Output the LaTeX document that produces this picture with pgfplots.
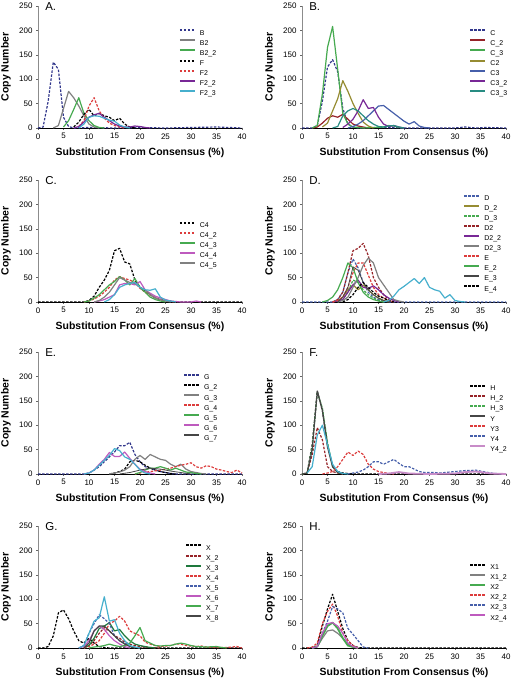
\documentclass[border=0pt]{standalone}
\usepackage{fontspec}
\setmainfont{Liberation Sans}
\usepackage{pgfplots}
\pgfplotsset{compat=1.18}
\definecolor{cnavy}{RGB}{50,55,140}
\definecolor{cgray}{RGB}{128,128,128}
\definecolor{cgreen}{RGB}{70,170,80}
\definecolor{cred}{RGB}{220,60,60}
\definecolor{cdred}{RGB}{150,35,40}
\definecolor{cpurple}{RGB}{120,40,150}
\definecolor{cmag}{RGB}{190,90,190}
\definecolor{ccyan}{RGB}{70,175,205}
\definecolor{colive}{RGB}{150,140,50}
\definecolor{cblue}{RGB}{70,95,170}
\definecolor{cteal}{RGB}{40,140,130}
\definecolor{cdgreen}{RGB}{30,120,60}
\definecolor{cdgray}{RGB}{70,70,70}
\definecolor{cpink}{RGB}{200,140,200}
\tikzset{dsh/.style={dash pattern=on 2.5bp off 1.5bp},
 plab/.style={font=\fontsize{11.5}{12}\selectfont, inner sep=0pt, anchor=north west}}
\pgfplotsset{
 panel/.style={
  scale only axis, width=204bp, height=122bp,
  xmin=0, xmax=40, ymin=0, ymax=250, clip=false,
  xtick={0,5,...,40}, ytick={0,50,...,250},
  axis x line*=bottom, axis y line*=left,
  x axis line style={black, line width=0.6bp},
  y axis line style={black!45, line width=0.9bp},
  tick align=outside, major tick length=2bp,
  tick style={black!60, line width=0.5bp},
  /pgf/number format/assume math mode=true,
  ticklabel style={font=\fontsize{8}{9}\selectfont},
  xlabel={Substitution From Consensus (\%)}, ylabel={Copy Number},
  label style={font=\bfseries\fontsize{10.5}{12}\selectfont},
  xlabel style={at={(axis description cs:0.5,-0.205)}, anchor=center},
  ylabel style={at={(axis description cs:-0.157,0.5)}, anchor=center},
  every axis plot/.append style={line width=1.2bp, line join=round},
  legend style={draw=none, fill=none, inner sep=0pt, anchor=north west,
    font=\fontsize{7}{8}\selectfont, row sep=3.8bp, column sep=4bp,
    nodes={inner sep=0pt, text height=5bp, text depth=0.5bp}},
  legend cell align=left,
  legend image code/.code={\draw[##1,line width=2bp] (0bp,2.5bp) -- (15bp,2.5bp);},
 },
}
\begin{document}
\begin{tikzpicture}[x=1bp,y=1bp]
\path[use as bounding box] (0,0) rectangle (512,679);
% ---------------- A
\begin{axis}[panel, at={(38bp,551bp)}, anchor=south west, legend style={at={(0.69,0.81)}}]
\node[plab] at (rel axis cs:0.035,1.03) {A.};
\addplot[cnavy,dsh] coordinates {(0,0)(1,2)(2,55)(3,135)(4,120)(5,22)(6,3)(7,0)(10,1)(15,0)(20,1)(25,0)(30,1)(35,2)(40,0)};
\addplot[cgray] coordinates {(3,0)(4,5)(5,40)(6,75)(7,62)(8,45)(9,25)(10,8)(11,2)(12,0)};
\addplot[cgreen] coordinates {(5,2)(6,15)(7,38)(8,62)(9,30)(10,15)(11,5)(12,1)(13,0)};
\addplot[black,dsh] coordinates {(7,2)(8,12)(9,28)(10,38)(11,25)(12,30)(13,25)(14,22)(15,15)(16,20)(17,8)(18,2)(19,0)};
\addplot[cred,dsh] coordinates {(8,3)(9,15)(10,45)(11,62)(12,35)(13,20)(14,10)(15,5)(16,2)(17,0)};
\addplot[cpurple] coordinates {(7,0)(8,3)(9,12)(10,22)(11,27)(12,30)(13,22)(14,15)(15,8)(16,4)(17,2)(18,2)(19,4)(20,3)(21,1)(22,0)};
\addplot[ccyan] coordinates {(8,0)(9,8)(10,22)(11,25)(12,24)(13,20)(14,16)(15,14)(16,6)(17,2)(18,0)};
\legend{B,B2,B2\_2,F,F2,F2\_2,F2\_3}
\end{axis}
% ---------------- B
\begin{axis}[panel, at={(302bp,551bp)}, anchor=south west, legend style={at={(0.82,0.81)}}]
\node[plab] at (rel axis cs:0.035,1.03) {B.};
\addplot[cnavy,dsh] coordinates {(0,0)(2,0)(3,5)(4,55)(5,125)(6,140)(7,115)(8,40)(9,8)(10,2)(11,0)(15,1)(20,0)(30,0)(32,2)(34,0)(36,1)(40,0)};
\addplot[cdred] coordinates {(2,0)(3,2)(4,10)(5,20)(6,25)(7,22)(8,28)(9,18)(10,8)(11,4)(12,2)(13,0)};
\addplot[cgreen] coordinates {(2,0)(3,5)(4,70)(5,165)(6,208)(7,120)(8,30)(9,8)(10,2)(12,0)(16,2)(17,5)(18,4)(19,1)(20,0)};
\addplot[colive] coordinates {(4,2)(5,10)(6,35)(7,60)(8,97)(9,75)(10,50)(11,30)(12,12)(13,4)(14,0)};
\addplot[cblue] coordinates {(9,0)(10,3)(11,8)(12,15)(13,25)(14,35)(15,45)(16,46)(17,38)(18,30)(19,22)(20,14)(21,8)(22,13)(23,4)(24,1)(25,0)};
\addplot[cpurple] coordinates {(8,1)(9,8)(10,18)(11,35)(12,58)(13,40)(14,42)(15,22)(16,8)(17,3)(18,5)(19,2)(20,0)};
\addplot[cteal] coordinates {(6,0)(7,3)(8,25)(9,35)(10,40)(11,35)(12,25)(13,15)(14,8)(15,3)(16,2)(17,4)(18,5)(19,2)(20,0)};
\legend{C,C\_2,C\_3,C2,C3,C3\_2,C3\_3}
\end{axis}
% ---------------- C
\begin{axis}[panel, at={(38bp,377bp)}, anchor=south west, legend style={at={(0.69,0.66)}}]
\node[plab] at (rel axis cs:0.035,1.03) {C.};
\addplot[black,dsh] coordinates {(0,0)(9,0)(10,3)(11,12)(12,30)(13,45)(14,65)(15,105)(16,110)(17,82)(18,78)(19,45)(20,30)(21,22)(22,15)(23,8)(24,5)(25,3)(26,2)(27,0)(40,0)};
\addplot[cred,dsh] coordinates {(9,0)(10,2)(11,6)(12,12)(13,20)(14,30)(15,45)(16,52)(17,48)(18,45)(19,40)(20,28)(21,20)(22,14)(23,9)(24,5)(25,3)(26,1)(27,0)};
\addplot[cgreen] coordinates {(9,0)(10,2)(11,8)(12,15)(13,25)(14,35)(15,42)(16,52)(17,45)(18,35)(19,48)(20,30)(21,20)(22,10)(23,5)(24,2)(25,0)};
\addplot[cmag] coordinates {(11,0)(12,2)(13,5)(14,10)(15,15)(16,35)(17,38)(18,38)(19,35)(20,42)(21,25)(22,18)(23,12)(24,8)(25,5)(26,2)(27,1)(28,0)(30,0)(31,2)(32,0)};
\addplot[cgray] coordinates {(11,0)(12,3)(13,10)(14,20)(15,35)(16,50)(17,45)(18,40)(19,38)(20,30)(21,25)(22,15)(23,8)(24,5)(25,2)(26,0)};
\addplot[ccyan,forget plot] coordinates {(13,0)(14,5)(15,15)(16,30)(17,35)(18,38)(19,40)(20,30)(21,25)(22,24)(23,27)(24,10)(25,4)(26,2)(27,0)};
\legend{C4,C4\_2,C4\_3,C4\_4,C4\_5}
\end{axis}
% ---------------- D
\begin{axis}[panel, at={(302bp,377bp)}, anchor=south west, legend style={at={(0.79,0.88)}}]
\node[plab] at (rel axis cs:0.035,1.03) {D.};
\addplot[cblue,dsh] coordinates {(0,0)(6,0)(7,5)(8,20)(9,60)(10,88)(11,70)(12,40)(13,20)(14,10)(15,5)(16,2)(17,0)(40,0)};
\addplot[colive] coordinates {(6,0)(7,3)(8,10)(9,25)(10,35)(11,25)(12,35)(13,25)(14,15)(15,8)(16,3)(17,0)};
\addplot[cgreen,dsh] coordinates {(7,0)(8,5)(9,20)(10,45)(11,40)(12,25)(13,15)(14,8)(15,3)(16,0)};
\addplot[cdred,dsh] coordinates {(6,0)(7,5)(8,20)(9,60)(10,105)(11,110)(12,120)(13,95)(14,50)(15,30)(16,15)(17,5)(18,0)};
\addplot[cpurple] coordinates {(6,0)(7,2)(8,5)(9,20)(10,35)(11,45)(12,30)(13,28)(14,33)(15,25)(16,15)(17,8)(18,3)(19,0)};
\addplot[cgray] coordinates {(7,0)(8,3)(9,10)(10,30)(11,50)(12,75)(13,90)(14,80)(15,50)(16,35)(17,20)(18,5)(19,2)(20,0)};
\addplot[cred,dsh] coordinates {(6,0)(7,3)(8,10)(9,30)(10,60)(11,80)(12,80)(13,55)(14,30)(15,15)(16,8)(17,3)(18,0)};
\addplot[cgreen] coordinates {(4,0)(5,3)(6,10)(7,25)(8,50)(9,80)(10,70)(11,40)(12,20)(13,10)(14,5)(15,2)(16,0)};
\addplot[cdgray,line width=0.8bp] coordinates {(7,0)(8,10)(9,30)(10,72)(11,65)(12,40)(13,25)(14,15)(15,8)(16,3)(17,0)};
\addplot[black,dsh] coordinates {(8,0)(9,5)(10,15)(11,30)(12,40)(13,30)(14,20)(15,12)(16,8)(17,3)(18,0)};
\addplot[ccyan,forget plot] coordinates {(16,0)(17,3)(18,12)(19,25)(20,32)(21,40)(22,48)(23,38)(24,50)(25,30)(26,25)(27,22)(28,8)(29,15)(30,3)(31,1)(32,0)};
\legend{D,D\_2,D\_3,D2,D2\_2,D2\_3,E,E\_2,E\_3,E\_4}
\end{axis}
% ---------------- E
\begin{axis}[panel, at={(38bp,205bp)}, anchor=south west, legend style={at={(0.71,0.82)}}]
\node[plab] at (rel axis cs:0.035,1.03) {E.};
\addplot[cnavy,dsh] coordinates {(0,0)(9,0)(10,2)(11,8)(12,15)(13,25)(14,35)(15,45)(16,58)(17,58)(18,65)(19,40)(20,25)(21,15)(22,12)(23,8)(24,5)(25,3)(26,1)(27,0)(40,0)};
\addplot[black,dsh] coordinates {(14,0)(15,2)(16,5)(17,10)(18,25)(19,28)(20,25)(21,18)(22,12)(23,8)(24,5)(25,3)(26,1)(27,0)};
\addplot[cgray] coordinates {(14,0)(15,2)(16,4)(17,8)(18,15)(19,30)(20,38)(21,30)(22,40)(23,35)(24,30)(25,28)(26,20)(27,15)(28,20)(29,10)(30,5)(31,3)(32,1)(33,0)};
\addplot[cred,dsh] coordinates {(19,0)(20,2)(22,5)(24,8)(26,12)(27,15)(28,18)(29,20)(30,23)(31,15)(32,12)(33,17)(34,15)(35,10)(36,8)(37,5)(38,3)(39,8)(40,2)};
\addplot[cgreen] coordinates {(19,0)(20,3)(21,8)(22,12)(23,12)(24,15)(25,12)(26,8)(27,12)(28,8)(29,4)(30,3)(31,1)(32,0)};
\addplot[cmag] coordinates {(9,0)(10,2)(11,8)(12,20)(13,30)(14,44)(15,36)(16,36)(17,45)(18,32)(19,20)(20,10)(21,5)(22,2)(23,0)};
\addplot[cdgray,line width=0.8bp] coordinates {(16,0)(18,3)(20,8)(22,12)(24,10)(26,6)(28,3)(30,0)};
\addplot[ccyan,forget plot] coordinates {(9,0)(10,2)(11,8)(12,18)(13,28)(14,38)(15,52)(16,48)(17,35)(18,30)(19,20)(20,8)(21,2)(22,0)};
\legend{G,G\_2,G\_3,G\_4,G\_5,G\_6,G\_7}
\end{axis}
% ---------------- F
\begin{axis}[panel, at={(302bp,205bp)}, anchor=south west, legend style={at={(0.82,0.73)}}]
\node[plab] at (rel axis cs:0.035,1.03) {F.};
\addplot[black,dsh] coordinates {(0,0)(1,2)(2,60)(3,170)(4,130)(5,60)(6,15)(7,5)(8,2)(9,1)(10,0)(40,0)};
\addplot[cdred,dsh] coordinates {(0,0)(1,2)(2,40)(3,95)(4,70)(5,15)(6,5)(7,2)(8,0)};
\addplot[cgreen,dsh] coordinates {(0,0)(1,2)(2,55)(3,168)(4,135)(5,65)(6,15)(7,3)(8,0)};
\addplot[cdgray] coordinates {(0,0)(1,2)(2,50)(3,170)(4,130)(5,55)(6,15)(7,3)(8,0)};
\addplot[cred,dsh] coordinates {(4,0)(5,2)(6,5)(7,15)(8,30)(9,45)(10,38)(11,47)(12,40)(13,20)(14,10)(15,5)(16,3)(17,1)(18,0)};
\addplot[cblue,dsh] coordinates {(9,0)(10,2)(11,4)(12,8)(13,15)(14,25)(15,25)(16,20)(17,25)(18,30)(19,22)(20,15)(21,15)(22,10)(23,5)(24,3)(25,3)(26,3)(27,2)(28,3)(29,4)(30,5)(31,6)(32,7)(33,7)(34,8)(35,6)(36,4)(37,2)(38,1)(39,0)};
\addplot[cpink,line width=1.8bp] coordinates {(15,0)(17,1)(19,4)(21,1)(25,0)(30,1)(32,4)(34,5)(35,4)(37,1)(40,0)};
\addplot[ccyan,forget plot] coordinates {(1,2)(2,15)(3,80)(4,100)(5,60)(6,20)(7,5)(8,1)(9,0)};
\legend{H,H\_2,H\_3,Y,Y3,Y4,Y4\_2}
\end{axis}
% ---------------- G
\begin{axis}[panel, at={(38bp,31bp)}, anchor=south west, legend style={at={(0.72,0.85)}}]
\node[plab] at (rel axis cs:0.035,1.03) {G.};
\addplot[black,dsh] coordinates {(0,0)(1,0)(2,3)(3,25)(4,72)(5,78)(6,60)(7,35)(8,15)(9,10)(10,20)(11,10)(12,3)(13,1)(14,0)(40,0)};
\addplot[cdred,dsh] coordinates {(9,0)(10,5)(11,15)(12,30)(13,42)(14,35)(15,25)(16,20)(17,12)(18,8)(19,5)(20,3)(22,1)(24,0)};
\addplot[cdgreen] coordinates {(9,0)(10,5)(11,20)(12,40)(13,45)(14,52)(15,35)(16,38)(17,25)(18,15)(19,8)(20,5)(21,3)(22,1)(23,0)};
\addplot[cred,dsh] coordinates {(9,0)(10,3)(11,8)(12,15)(13,30)(14,50)(15,55)(16,65)(17,55)(18,35)(19,30)(20,25)(21,12)(22,8)(23,5)(24,3)(25,4)(26,5)(27,8)(28,8)(29,5)(30,4)(31,3)(32,4)(33,2)(35,1)(37,1)(38,2)(39,3)(40,0)};
\addplot[cblue,dsh] coordinates {(8,0)(9,5)(10,30)(11,50)(12,68)(13,60)(14,50)(15,25)(16,15)(17,10)(18,5)(19,2)(20,0)};
\addplot[cmag] coordinates {(8,0)(9,3)(10,15)(11,35)(12,45)(13,38)(14,25)(15,15)(16,8)(17,3)(18,0)};
\addplot[cgreen] coordinates {(10,0)(11,2)(12,3)(13,5)(14,8)(15,5)(16,3)(17,5)(18,10)(19,25)(20,42)(21,15)(22,10)(23,5)(24,4)(25,5)(26,5)(27,8)(28,10)(29,8)(30,5)(31,3)(33,2)(35,3)(36,1)(37,0)};
\addplot[cdgray] coordinates {(9,0)(10,10)(11,35)(12,45)(13,45)(14,35)(15,25)(16,15)(17,8)(18,3)(19,0)};
\addplot[ccyan,forget plot] coordinates {(8,0)(9,5)(10,30)(11,55)(12,62)(13,105)(14,55)(15,58)(16,30)(17,15)(18,5)(19,2)(20,0)};
\legend{X,X\_2,X\_3,X\_4,X\_5,X\_6,X\_7,X\_8}
\end{axis}
% ---------------- H
\begin{axis}[panel, at={(302bp,31bp)}, anchor=south west, legend style={at={(0.82,0.69)}}]
\node[plab] at (rel axis cs:0.035,1.03) {H.};
\addplot[black,dsh] coordinates {(0,0)(2,0)(3,5)(4,45)(5,80)(6,110)(7,75)(8,40)(9,15)(10,5)(11,1)(12,0)(40,0)};
\addplot[cgray] coordinates {(2,0)(3,3)(4,20)(5,35)(6,37)(7,30)(8,20)(9,8)(10,3)(11,0)};
\addplot[cgreen,line width=1.8bp] coordinates {(2,0)(3,3)(4,25)(5,45)(6,52)(7,40)(8,20)(9,5)(10,2)(11,0)};
\addplot[cred,dsh] coordinates {(1,0)(2,2)(3,10)(4,50)(5,75)(6,90)(7,65)(8,30)(9,15)(10,5)(11,0)};
\addplot[cblue,dsh] coordinates {(2,0)(3,3)(4,30)(5,55)(6,85)(7,80)(8,72)(9,40)(10,28)(11,15)(12,2)(13,0)};
\addplot[cmag] coordinates {(2,0)(3,3)(4,30)(5,50)(6,52)(7,45)(8,30)(9,10)(10,3)(11,0)};
\legend{X1,X1\_2,X2,X2\_2,X2\_3,X2\_4}
\end{axis}
\end{tikzpicture}
\end{document}
